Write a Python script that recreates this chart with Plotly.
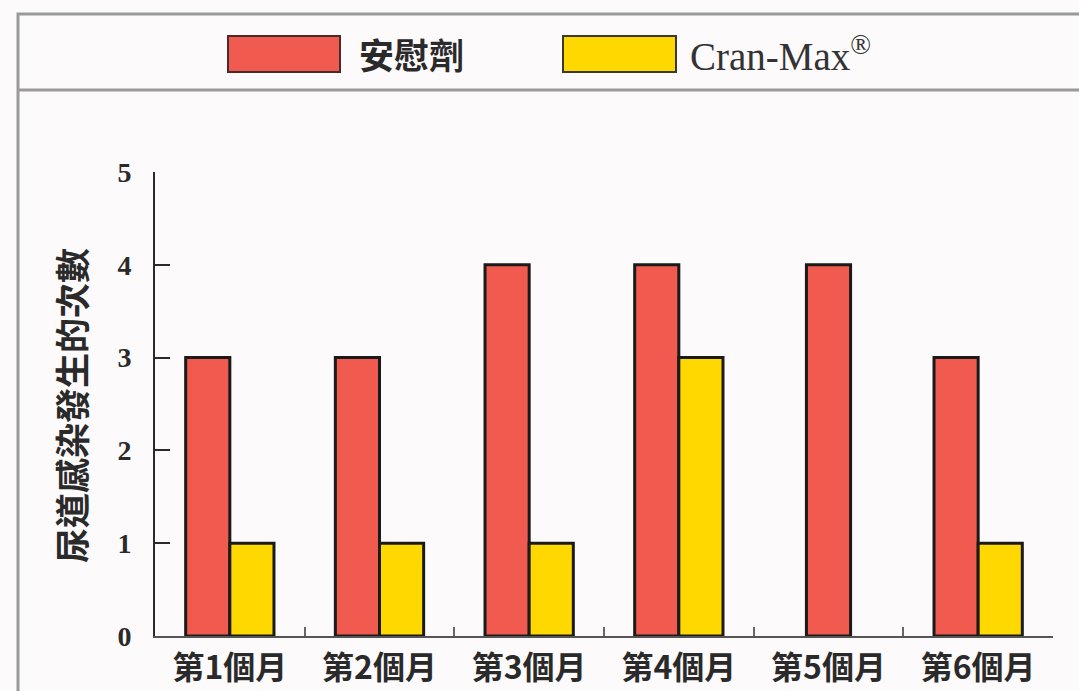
import plotly.graph_objects as go

months = ["第1個月", "第2個月", "第3個月", "第4個月", "第5個月", "第6個月"]
placebo = [3, 3, 4, 4, 4, 3]
cranmax = [1, 1, 1, 3, 0, 1]
series_names = ["安慰劑", "Cran-Max<sup>®</sup>"]
y_ticks = [0, 1, 2, 3, 4, 5]
y_title = "尿道感染發生的次數"

RED = "#f05a4f"
YELLOW = "#ffd800"
W = 0.295

W_PX, H_PX = 1079, 691
L, R, T, B = 155, 26, 172, 55
pw = W_PX - L - R
ph = H_PX - T - B


def px_x(x):
    return (x - L) / pw


def px_y(y):
    return (H_PX - B - y) / ph


red_offset = [-W / 2 if c == 0 else -W for c in cranmax]
cran_plot = [c if c != 0 else None for c in cranmax]

fig = go.Figure()
fig.add_bar(x=months, y=placebo, name=series_names[0], offset=red_offset,
            width=[W] * len(months),
            marker=dict(color=RED, line=dict(color="#1a1a1a", width=3)),
            showlegend=False)
fig.add_bar(x=months, y=cran_plot, name=series_names[1], offset=[0] * len(months),
            width=[W] * len(months),
            marker=dict(color=YELLOW, line=dict(color="#1a1a1a", width=3)),
            showlegend=False)

shapes = [
    # outer frame
    dict(type="rect", xref="paper", yref="paper",
         x0=px_x(18), x1=px_x(1100), y0=px_y(720), y1=px_y(14),
         line=dict(color="#9a9a9a", width=3), layer="below"),
    # legend separator
    dict(type="line", xref="paper", yref="paper",
         x0=px_x(18), x1=px_x(1100), y0=px_y(90), y1=px_y(90),
         line=dict(color="#9a9a9a", width=3)),
    # legend swatches
    dict(type="rect", xref="paper", yref="paper",
         x0=px_x(228), x1=px_x(340), y0=px_y(72), y1=px_y(36),
         fillcolor=RED, line=dict(color="#4a2a2a", width=2)),
    dict(type="rect", xref="paper", yref="paper",
         x0=px_x(563), x1=px_x(676), y0=px_y(72), y1=px_y(36),
         fillcolor=YELLOW, line=dict(color="#3a3a2a", width=2)),
]

annotations = [
    dict(text=series_names[0], xref="paper", yref="paper", x=px_x(357), y=px_y(54),
         xanchor="left", yanchor="middle", showarrow=False,
         font=dict(family="Noto Sans CJK TC", size=35, color="#2a2a2a", weight="bold")),
    dict(text=series_names[1], xref="paper", yref="paper", x=px_x(688), y=px_y(54),
         xanchor="left", yanchor="middle", showarrow=False,
         font=dict(family="Liberation Serif", size=39, color="#333333")),
    dict(text=y_title, xref="paper", yref="paper", x=px_x(70), y=px_y(406),
         xanchor="center", yanchor="middle", showarrow=False, textangle=-90,
         font=dict(family="Noto Sans CJK TC", size=35, color="#2a2a2a", weight="bold")),
]

fig.update_layout(
    width=W_PX, height=H_PX,
    margin=dict(l=L, r=R, t=T, b=B, pad=0, autoexpand=False),
    paper_bgcolor="#fdfafb", plot_bgcolor="#fdfafb",
    barmode="overlay",
    shapes=shapes, annotations=annotations,
    showlegend=False,
)
fig.update_xaxes(
    type="category", showgrid=False, zeroline=False, automargin=False,
    showline=True, linecolor="#555555", linewidth=2,
    ticks="inside", tickson="boundaries", ticklen=9, tickwidth=2, tickcolor="#666666",
    tickfont=dict(family="Noto Sans CJK TC", size=32, color="#2a2a2a", weight="bold"),
    ticklabelstandoff=3,
)
fig.update_yaxes(
    range=[0, 5], tickvals=y_ticks, showgrid=False, zeroline=False, automargin=False,
    showline=True, linecolor="#2a2a2a", linewidth=2,
    ticks="inside", ticklen=15, tickwidth=2, tickcolor="#2a2a2a",
    tickfont=dict(family="Liberation Serif", size=28, color="#2a2a2a", weight="bold"),
    ticklabelstandoff=16,
)

fig.write_html("out.html", config={"displayModeBar": False},
               post_script="document.body.style.margin='0px';document.body.style.overflow='hidden';")
